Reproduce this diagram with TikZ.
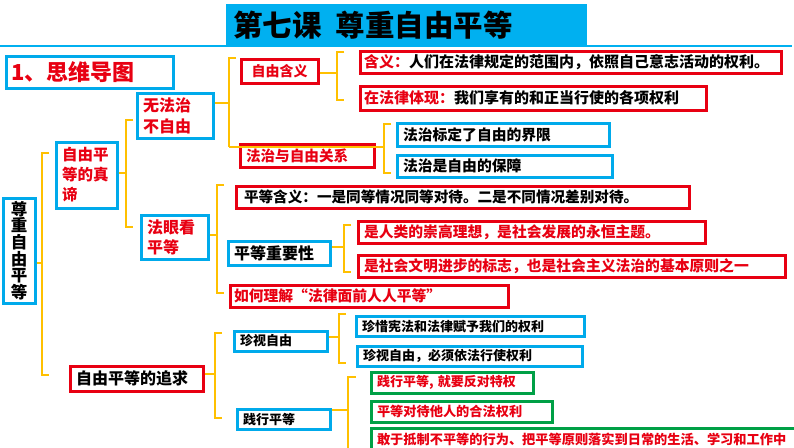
\documentclass[tikz,border=0pt]{standalone}
\usepackage{fontspec}
\setmainfont{Noto Sans CJK SC}
\definecolor{cblue}{RGB}{0,170,235}
\definecolor{ctitle}{RGB}{0,176,240}
\definecolor{cred}{RGB}{232,0,18}
\definecolor{cgreen}{RGB}{0,160,70}
\definecolor{cyel}{RGB}{255,192,0}
\newcommand\fsz[2]{\fontsize{#1pt}{#2pt}\selectfont\bfseries}
\begin{document}
\begin{tikzpicture}[x=1pt,y=-1pt,
  box/.style={draw=cblue, line width=3pt, fill=white, anchor=north west, inner xsep=6pt, inner ysep=0pt, align=left},
  rbox/.style={box, draw=cred},
  gbox/.style={box, draw=cgreen},
  brk/.style={draw=cyel, line width=2pt},
]
\useasboundingbox (0,0) rectangle (794,447);
\clip (0,0) rectangle (794,447);
\fill[white] (0,0) rectangle (794,447);

% title
\draw[ctitle, line width=2pt] (0,46) -- (792,46);
\node[fill=ctitle, anchor=north west, inner xsep=7pt, inner ysep=0pt, text width=347pt, minimum height=41pt, align=left, font=\fsz{29.5}{32}] (title) at (226,4) {第七课\hspace{14pt}尊重自由平等};

% heading
\node[box, inner xsep=5pt, text width=157pt, minimum height=32pt, text=cred, font=\fsz{22}{24}] (head) at (4.5,54.5) {1、思维导图};

% root
\node[box, inner xsep=2pt, text width=28pt, minimum height=105pt, align=center, font=\fsz{16.5}{16.6}] (root) at (1.5,196.5) {尊\\重\\自\\由\\平\\等};

% level 1
\node[box, text width=49pt, minimum height=66pt, text=cred, font=\fsz{15.5}{20}] (zd) at (54.5,140.5) {自由平\\等的真\\谛};
\node[rbox, text width=121pt, minimum height=25pt, font=\fsz{16}{18}] (zq) at (68.5,364.5) {自由平等的追求};

% level 2
\node[box, text width=64pt, minimum height=45pt, text=cred, font=\fsz{16}{21}] (wfz) at (135.5,91.5) {无法治\\不自由};
\node[box, text width=55pt, minimum height=44pt, text=cred, font=\fsz{16}{20}] (fyk) at (139.5,213.5) {法眼看\\平等};
\node[box, text width=81pt, minimum height=20pt, font=\fsz{13}{15}] (zszy) at (232.5,329.5) {珍视自由};
\node[box, text width=81pt, minimum height=20pt, font=\fsz{13}{15}] (jxpd) at (235.5,407.5) {践行平等};

% level 3
\node[rbox, inner xsep=4pt, text width=69pt, minimum height=24pt, align=center, text=cred, font=\fsz{14}{16}] (zyhy) at (239.5,57.5) {自由含义};
\node[rbox, text width=122pt, minimum height=23pt, text=cred, font=\fsz{14.6}{16}] (fzgx) at (238.5,142.5) {法治与自由关系};
\node[rbox, inner xsep=8pt, text width=437pt, minimum height=22pt, font=\fsz{14.6}{16}] (pdhy) at (234.5,184.5) {平等含义：一是同等情况同等对待。二是不同情况差别对待。};
\node[box, text width=90pt, minimum height=24pt, font=\fsz{16}{18}] (pdzy) at (226.5,239.5) {平等重要性};
\node[rbox, inner xsep=4pt, text width=270pt, minimum height=22pt, text=cred, font=\fsz{14.8}{16}] (rhlj) at (228.5,283.5) {如何理解“法律面前人人平等”};

% level 4
\node[rbox, inner xsep=4pt, text width=413pt, minimum height=22pt, font=\fsz{15}{17}] (hy1) at (358.5,49.5) {\textcolor{cred}{含义：}人们在法律规定的范围内，依照自己意志活动的权利。};
\node[rbox, inner xsep=4pt, text width=338pt, minimum height=24pt, font=\fsz{15}{17}] (hy2) at (358.5,84.5) {\textcolor{cred}{在法律体现：}我们享有的和正当行使的各项权利};
\node[box, text width=200pt, minimum height=23pt, font=\fsz{14.8}{16}] (fz1) at (395.5,121.5) {法治标定了自由的界限};
\node[box, text width=203pt, minimum height=22pt, font=\fsz{14.8}{16}] (fz2) at (395.5,153.5) {法治是自由的保障};
\node[rbox, text width=335pt, minimum height=22pt, text=cred, font=\fsz{14.8}{16}] (zy1) at (356.5,219.5) {是人类的崇高理想，是社会发展的永恒主题。};
\node[rbox, text width=415pt, minimum height=22pt, text=cred, font=\fsz{14.8}{16}] (zy2) at (356.5,253.5) {是社会文明进步的标志，也是社会主义法治的基本原则之一};
\node[box, text width=216pt, minimum height=20pt, font=\fsz{13}{15}] (zs1) at (354.5,314.5) {珍惜宪法和法律赋予我们的权利};
\node[box, text width=213pt, minimum height=20pt, font=\fsz{13}{15}] (zs2) at (355.5,344.5) {珍视自由，必须依法行使权利};
\node[gbox, text width=150pt, minimum height=21pt, text=cred, font=\fsz{13}{15}] (jx1) at (369.5,370.5) {践行平等, 就要反对特权};
\node[gbox, text width=169pt, minimum height=21pt, text=cred, font=\fsz{13.2}{15}] (jx2) at (369.5,399.5) {平等对待他人的合法权利};
\node[gbox, text width=427pt, minimum height=23pt, text=cred, font=\fsz{13.2}{15}] (jx3) at (369.5,426.5) {敢于抵制不平等的行为、把平等原则落实到日常的生活、学习和工作中};

% bracket coordinates
\coordinate (b1) at (42,263);
\coordinate (b2) at (126,173);
\coordinate (b3) at (229,103);
\coordinate (b4) at (337,73);
\coordinate (b5) at (384,147);
\coordinate (b6) at (217,235);
\coordinate (b7) at (344,247);
\coordinate (b8) at (215,374);
\coordinate (b9) at (339,337);
\coordinate (b10) at (348,410);

% brackets
\draw[brk] (49,153) -- (42,153) -- (42,375) -- (49,375);
\draw[brk] (133,120) -- (126,120) -- (126,227) -- (133,227);
\draw[brk] (236,58) -- (229,58) -- (229,147);
\draw[brk] (344,52) -- (337,52) -- (337,100) -- (344,100);
\draw[brk] (391,124) -- (384,124) -- (384,173) -- (391,173);
\draw[brk] (224,185) -- (217,185) -- (217,293) -- (224,293);
\draw[brk] (351,225) -- (344,225) -- (344,272) -- (351,272);
\draw[brk] (222,333) -- (215,333) -- (215,418) -- (222,418);
\draw[brk] (346,314) -- (339,314) -- (339,363) -- (346,363);
\draw[brk] (356,377) -- (348,377) -- (348,450);

% connectors
\draw[brk] (root.east |- b1) -- (b1);
\draw[brk] (zd.east |- b2) -- (b2);
\draw[brk] (wfz.east |- b3) -- (b3);
\draw[brk] (zyhy.east |- b4) -- (b4);
\draw[brk] (229,147) -- (fzgx.east |- b5) -- (b5);
\draw[brk] (fyk.east |- b6) -- (b6);
\draw[brk] (pdzy.east |- b7) -- (b7);
\draw[brk] (zq.east |- b8) -- (b8);
\draw[brk] (zszy.east |- b9) -- (b9);
\draw[brk] (jxpd.east |- b10) -- (b10);
\end{tikzpicture}
\end{document}
